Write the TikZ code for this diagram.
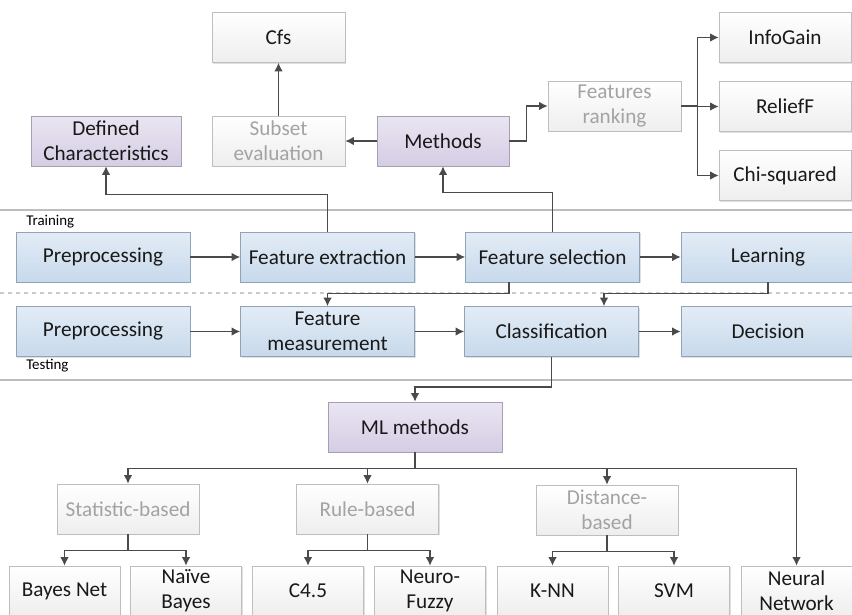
\documentclass[tikz,border=0pt]{standalone}
\usepackage{fontspec}
\setmainfont{Carlito}
\usepackage{tikz}
\usetikzlibrary{arrows.meta,calc,shadows}
\definecolor{blutop}{HTML}{E3ECF6}
\definecolor{blubot}{HTML}{C7D9EB}
\definecolor{bluline}{HTML}{90A4B9}
\definecolor{purtop}{HTML}{EAE5F2}
\definecolor{purbot}{HTML}{D5CDE4}
\definecolor{purline}{HTML}{A69EB4}
\definecolor{whtbot}{HTML}{EEEEEE}
\definecolor{whtline}{HTML}{BEBEBE}
\definecolor{fadetext}{HTML}{A3A3A3}
\definecolor{arrgray}{HTML}{4A4A4A}
\definecolor{sepgray}{HTML}{BDBDBD}
\tikzset{box/.style={draw, minimum height=37.5pt, inner sep=2pt, align=center,
   font=\fontsize{15.9}{18.8}\selectfont, text=black!90,
   drop shadow={shadow xshift=1.1pt, shadow yshift=-1.1pt, fill=black, opacity=.12}},
 blubox/.style={box, draw=bluline, top color=blutop, bottom color=blubot},
 purbox/.style={box, draw=purline, top color=purtop, bottom color=purbot},
 whtbox/.style={box, draw=whtline, top color=white, bottom color=whtbot},
 faded/.style={text=fadetext},
 arr/.style={draw=arrgray, line width=1.1pt, -{Latex[length=6.5pt,width=6.5pt]}},
 sep/.style={draw=sepgray, line width=.8pt},
 phase/.style={anchor=west, inner sep=0pt, font=\fontsize{11.2}{13}\selectfont},
 }

\begin{document}
\begin{tikzpicture}[x=0.75pt, y=-0.75pt]
        \useasboundingbox (0, 0) rectangle (852, 614);
        \draw [sep] (0, 210) -- (852, 210);
        \draw [sep] (0, 380) -- (852, 380);
        \draw [sep, dashed, draw=sepgray!80, line width=1.1pt] (0, 293) -- (852, 293);
        \node [phase] (train) at (26, 222) {Training};
        \node [phase] (test) at (26, 366) {Testing};
        \node [whtbox, minimum width=99.75pt] (cfs) at (278.5, 37.5) {Cfs};
        \node [purbox, minimum width=112.5pt] (defc) at (106, 141) {Defined\\Characteristics};
        \node [whtbox, faded, minimum width=99.75pt] (subset) at (278.5, 141) {Subset\\evaluation};
        \node [purbox, minimum width=99pt] (meth) at (443, 141) {Methods};
        \node [whtbox, faded, minimum width=99.75pt] (frank) at (614.5, 106) {Features\\ranking};
        \node [whtbox, minimum width=99pt] (info) at (785, 37.5) {InfoGain};
        \node [whtbox, minimum width=99pt] (relief) at (785, 106.5) {ReliefF};
        \node [whtbox, minimum width=99pt] (chi) at (785, 175.5) {Chi-squared};
        \node [blubox, minimum width=130.5pt] (pre1) at (103, 257) {Preprocessing};
        \node [blubox, minimum width=130.5pt] (fext) at (327.5, 257) {Feature extraction};
        \node [blubox, minimum width=130.5pt] (fsel) at (552.5, 257) {Feature selection};
        \node [blubox, minimum width=130.5pt] (learn) at (768, 257) {Learning};
        \node [blubox, minimum width=130.5pt] (pre2) at (103, 331.5) {Preprocessing};
        \node [blubox, minimum width=130.5pt] (fmeas) at (327.5, 331.5) {Feature\\measurement};
        \node [blubox, minimum width=130.5pt] (clas) at (551.5, 331.5) {Classification};
        \node [blubox, minimum width=130.5pt] (dec) at (768, 331.5) {Decision};
        \node [purbox, minimum width=130.5pt] (mlm) at (415, 427) {ML methods};
        \node [whtbox, faded, minimum width=106.5pt] (stat) at (128, 509) {Statistic-based};
        \node [whtbox, faded, minimum width=106.5pt] (rule) at (367.5, 509) {Rule-based};
        \node [whtbox, faded, minimum width=106.5pt] (dist) at (607, 510) {Distance-\\based};
        \node [whtbox, minimum width=83.25pt] (bnet) at (64.5, 591) {Bayes Net};
        \node [whtbox, minimum width=83.25pt] (nbay) at (186, 591) {Naïve\\Bayes};
        \node [whtbox, minimum width=83.25pt] (c45) at (308, 591) {C4.5};
        \node [whtbox, minimum width=83.25pt] (nfuz) at (430, 591) {Neuro-\\Fuzzy};
        \node [whtbox, minimum width=83.25pt] (knn) at (552.5, 591) {K-NN};
        \node [whtbox, minimum width=83.25pt] (svm) at (674, 591) {SVM};
        \node [whtbox, minimum width=83.25pt] (nnet) at (796.5, 591) {Neural\\Network};
        \draw [arr] (subset) -- (cfs);
        \draw [arr] (meth) -- (subset);
        \draw [arr] (meth.east) -- ++(17, 0) |- (frank.west);
        \foreach \r in {info, relief, chi}
            \draw [arr] (frank.east) -- ++(16, 0) |- (\r.west);
        \draw [arr] (fext.north) -- ++(0, -37) -| (defc.south);
        \draw [arr] (fsel.north) -- ++(0, -39) -| (meth.south);
        \draw [arr] (pre1) -- (fext);
        \draw [arr] (fext) -- (fsel);
        \draw [arr] (fsel) -- (learn);
        \draw [arr] (pre2) -- (fmeas);
        \draw [arr] (fmeas) -- (clas);
        \draw [arr] (clas) -- (dec);
        \draw [arr] ($(fsel.south)+(-43.5, 0)$) -- ++(0, 11) -| (fmeas.north);
        \draw [arr] (learn.south) -- ++(0, 11) -| ($(clas.north)+(52.5, 0)$);
        \draw [arr] (clas.south) -- ++(0, 30) -| (mlm.north);
        \foreach \c in {stat, rule, dist, nnet}
            \draw [arr] (mlm.south) -- ++(0, 16) -| (\c.north);
        \foreach \p/\c in {stat/bnet, stat/nbay, rule/c45, rule/nfuz, dist/knn, dist/svm}
            \draw [arr] (\p.south) -- ++(0, 16) -| (\c.north);
    \end{tikzpicture}
\end{document}
